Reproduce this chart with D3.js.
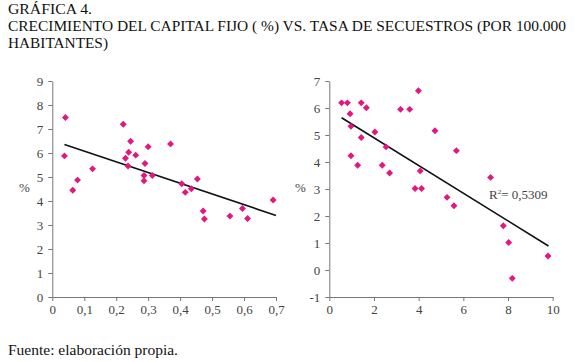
<html>
<head>
<script src="https://d3js.org/d3.v7.min.js"></script>
<style>
  body { margin: 0; background: #fff; }
  text { font-family: "Liberation Serif", "Times New Roman", serif; }
  .axis path, .axis line { stroke: #777; }
  .axis text { fill: #444; font-size: 13px; font-family: "Liberation Serif", serif; }
</style>
</head>
<body>
<svg id="chart" width="575" height="362"></svg>
<script>
// left panel: x = capital fijo growth, y = %
const leftX = [0.041, 0.038, 0.064, 0.079, 0.126, 0.222, 0.229, 0.237, 0.239, 0.245, 0.261, 0.300, 0.290, 0.287,
  0.287, 0.313, 0.370, 0.405, 0.416, 0.435, 0.454, 0.472, 0.476, 0.556, 0.595, 0.611, 0.691];
const leftY = [7.48, 5.88, 4.45, 4.87, 5.34, 7.20, 5.78, 5.46, 6.03, 6.49, 5.91, 6.26, 5.56, 5.06,
  4.84, 5.06, 6.38, 4.72, 4.36, 4.51, 4.92, 3.58, 3.25, 3.37, 3.69, 3.27, 4.04];
const leftTrendX = [0.038, 0.70];
const leftTrendY = [6.35, 3.40];
const leftXTicks = [0, 0.1, 0.2, 0.3, 0.4, 0.5, 0.6, 0.7];
const leftYTicks = [0, 1, 2, 3, 4, 5, 6, 7, 8, 9];

// right panel: x = tasa de secuestros, y = %
const rightX = [0.55, 0.81, 0.93, 0.97, 0.97, 1.27, 1.43, 1.43, 1.66, 2.04, 2.37, 2.54, 2.70, 3.19,
  3.60, 3.99, 3.84, 4.13, 4.07, 4.73, 5.27, 5.58, 5.69, 7.22, 7.79, 8.03, 8.19, 9.79];
const rightY = [6.19, 6.19, 5.79, 5.32, 4.23, 3.88, 6.19, 4.91, 6.01, 5.11, 3.88, 4.56, 3.59, 5.95,
  5.95, 6.64, 3.02, 3.02, 3.67, 5.16, 2.69, 2.38, 4.42, 3.43, 1.64, 1.02, -0.31, 0.52];
const rightTrendX = [0.55, 9.81];
const rightTrendY = [5.64, 0.89];
const rightXTicks = [0, 2, 4, 6, 8, 10];
const rightYTicks = [-1, 0, 1, 2, 3, 4, 5, 6, 7];

const titleLines = ["GRÁFICA 4.",
  "CRECIMIENTO DEL CAPITAL FIJO ( %) VS. TASA DE SECUESTROS (POR 100.000",
  "HABITANTES)"];
const titleWidths = [84, 558, 100];
const source = "Fuente: elaboración propia.";

const svg = d3.select("#chart");
const fmt = d => String(d).replace(".", ",");

// title
svg.selectAll(".title").data(titleLines).join("text")
  .attr("class", "title")
  .attr("x", 8)
  .attr("y", (d, i) => 13.5 + i * 17.2)
  .attr("font-size", 14.5)
  .attr("fill", "#111")
  .attr("textLength", (d, i) => titleWidths[i])
  .attr("lengthAdjust", "spacingAndGlyphs")
  .text(d => d);

svg.append("text")
  .attr("x", 8).attr("y", 355)
  .attr("font-size", 14.5)
  .attr("fill", "#111")
  .attr("textLength", 170)
  .attr("lengthAdjust", "spacingAndGlyphs")
  .text(source);

function panel(xs, ys, tx, ty, xDomain, yDomain, xTicks, yTicks, xRange, yRange, pctX) {
  const x = d3.scaleLinear().domain(xDomain).range(xRange);
  const y = d3.scaleLinear().domain(yDomain).range(yRange);
  const g = svg.append("g");

  g.append("g").attr("class", "axis")
    .attr("transform", "translate(0," + yRange[0] + ")")
    .call(d3.axisBottom(x).tickValues(xTicks).tickFormat(fmt).tickSize(4).tickSizeOuter(0).tickPadding(4))
    .attr("font-family", "Liberation Serif");

  g.append("g").attr("class", "axis")
    .attr("transform", "translate(" + xRange[0] + ",0)")
    .call(d3.axisLeft(y).tickValues(yTicks).tickFormat(fmt).tickSize(4).tickSizeOuter(0).tickPadding(5))
    .attr("font-family", "Liberation Serif");

  g.append("text")
    .attr("x", pctX).attr("y", (yRange[0] + yRange[1]) / 2 + 3)
    .attr("font-size", 13).attr("fill", "#444")
    .text("%");

  g.append("line")
    .attr("x1", x(tx[0])).attr("y1", y(ty[0]))
    .attr("x2", x(tx[1])).attr("y2", y(ty[1]))
    .attr("stroke", "#111").attr("stroke-width", 1.6);

  const sym = d3.symbol().type(d3.symbolSquare).size(24);
  g.selectAll("path.pt").data(xs).join("path")
    .attr("class", "pt")
    .attr("d", sym)
    .attr("fill", "#e3177d")
    .attr("transform", (d, i) => "translate(" + x(d) + "," + y(ys[i]) + ") rotate(45)");
  return { x, y, g };
}

panel(leftX, leftY, leftTrendX, leftTrendY, [0, 0.7], [0, 9], leftXTicks, leftYTicks,
  [52.3, 276], [297, 81], 19);

const right = panel(rightX, rightY, rightTrendX, rightTrendY, [0, 10], [-1, 7], rightXTicks, rightYTicks,
  [329.3, 552.7], [297, 81], 295);

right.g.append("text")
  .attr("x", 489).attr("y", 199)
  .attr("font-size", 13).attr("fill", "#444")
  .html("R<tspan dy='-5' font-size='7'>2</tspan><tspan dy='5'>= 0,5309</tspan>");
</script>
</body>
</html>
